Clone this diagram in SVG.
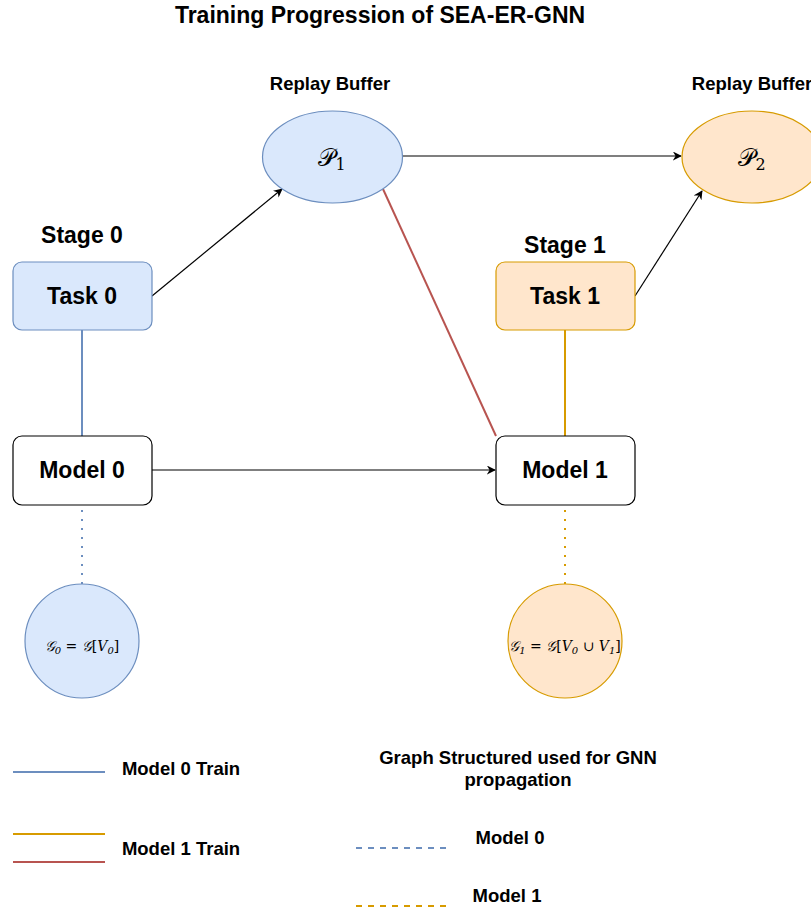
<svg xmlns="http://www.w3.org/2000/svg" width="811" height="916" viewBox="0 0 811 916">
<defs>
<marker id="arr" viewBox="0 0 10 10" refX="9" refY="5" markerWidth="9" markerHeight="9" orient="auto" markerUnits="userSpaceOnUse">
<path d="M0,0 L10,5 L0,10 L3,5 Z" fill="#000"/>
</marker>
<style>
text{font-family:"Liberation Sans",Arial,sans-serif;font-weight:bold;fill:#000;text-anchor:middle}
.math{font-family:"DejaVu Serif","Liberation Serif",serif;font-weight:normal}
.blue{fill:#dae8fc;stroke:#6c8ebf;stroke-width:1.2}
.orange{fill:#ffe6cc;stroke:#d79b00;stroke-width:1.2}
.white{fill:#fff;stroke:#000;stroke-width:1.2}
.conn{fill:none;stroke:#000;stroke-width:1.2}
.node{font-size:23px}
.leg{font-size:18.5px}
</style>
</defs>
<rect width="811" height="916" fill="#fff"/>
<text x="380" y="23" font-size="23">Training Progression of SEA-ER-GNN</text>
<text x="330" y="90" font-size="18.5">Replay Buffer</text>
<text x="752" y="90" font-size="18.5">Replay Buffer</text>
<text x="82" y="243" font-size="23">Stage 0</text>
<text x="565" y="253" font-size="23">Stage 1</text>

<g id="connectors">
<path class="conn" d="M152,296 L282,189" marker-end="url(#arr)"/>
<path class="conn" d="M402,156 L681,156" marker-end="url(#arr)"/>
<path class="conn" d="M635,296 L702,191" marker-end="url(#arr)"/>
<path class="conn" d="M152,470 L495,470" marker-end="url(#arr)"/>
<path d="M383,189 L496,436" stroke="#b85450" stroke-width="2" fill="none"/>
<path d="M82,330 L82,436" stroke="#6c8ebf" stroke-width="2" fill="none"/>
<path d="M565,330 L565,436" stroke="#d79b00" stroke-width="2" fill="none"/>
<path d="M82,510 L82,585" stroke="#6c8ebf" stroke-width="2" stroke-dasharray="2 7" fill="none"/>
<path d="M565,510 L565,585" stroke="#d79b00" stroke-width="2" stroke-dasharray="2 7" fill="none"/>
</g>

<g id="task0"><rect class="blue" x="13" y="262" width="139" height="68" rx="9"/><text class="node" x="82" y="304">Task 0</text></g>
<g id="task1"><rect class="orange" x="496" y="262" width="139" height="68" rx="9"/><text class="node" x="565" y="304">Task 1</text></g>
<g id="model0"><rect class="white" x="13" y="436" width="139" height="69" rx="9"/><text class="node" x="82" y="478">Model 0</text></g>
<g id="model1"><rect class="white" x="496" y="436" width="139" height="69" rx="9"/><text class="node" x="565" y="478">Model 1</text></g>
<g id="p1"><ellipse class="blue" cx="332.5" cy="157" rx="70" ry="46"/><text class="math" x="332" y="166" font-size="24">𝒫<tspan font-size="16" dy="4">1</tspan></text></g>
<g id="p2"><ellipse class="orange" cx="752" cy="157" rx="70" ry="46"/><text class="math" x="752" y="166" font-size="24">𝒫<tspan font-size="16" dy="4">2</tspan></text></g>
<g id="g0"><circle class="blue" cx="82" cy="641" r="57"/><text class="math" x="82" y="651" font-size="14" font-style="italic">𝒢<tspan font-size="10" dy="3">0</tspan><tspan dy="-3" font-style="normal"> = </tspan>𝒢<tspan font-style="normal">[</tspan>V<tspan font-size="10" dy="3">0</tspan><tspan dy="-3" font-style="normal">]</tspan></text></g>
<g id="g1"><circle class="orange" cx="565" cy="641" r="57"/><text class="math" x="565" y="651" font-size="14" font-style="italic">𝒢<tspan font-size="10" dy="3">1</tspan><tspan dy="-3" font-style="normal"> = </tspan>𝒢<tspan font-style="normal">[</tspan>V<tspan font-size="10" dy="3">0</tspan><tspan dy="-3" font-style="normal"> ∪ </tspan>V<tspan font-size="10" dy="3">1</tspan><tspan dy="-3" font-style="normal">]</tspan></text></g>

<g id="legend">
<line x1="13" y1="772" x2="105" y2="772" stroke="#6c8ebf" stroke-width="2"/>
<text class="leg" x="181" y="775">Model 0 Train</text>
<line x1="13" y1="834" x2="105" y2="834" stroke="#d79b00" stroke-width="2"/>
<line x1="13" y1="862" x2="105" y2="862" stroke="#b85450" stroke-width="2"/>
<text class="leg" x="181" y="855">Model 1 Train</text>
<text class="leg" x="518" y="764">Graph Structured used for GNN</text>
<text class="leg" x="518" y="786">propagation</text>
<line x1="356" y1="848" x2="447" y2="848" stroke="#6c8ebf" stroke-width="2" stroke-dasharray="6 6"/>
<text class="leg" x="510" y="844">Model 0</text>
<line x1="356" y1="906" x2="447" y2="906" stroke="#d79b00" stroke-width="2" stroke-dasharray="6 6"/>
<text class="leg" x="507" y="902">Model 1</text>
</g>
</svg>
